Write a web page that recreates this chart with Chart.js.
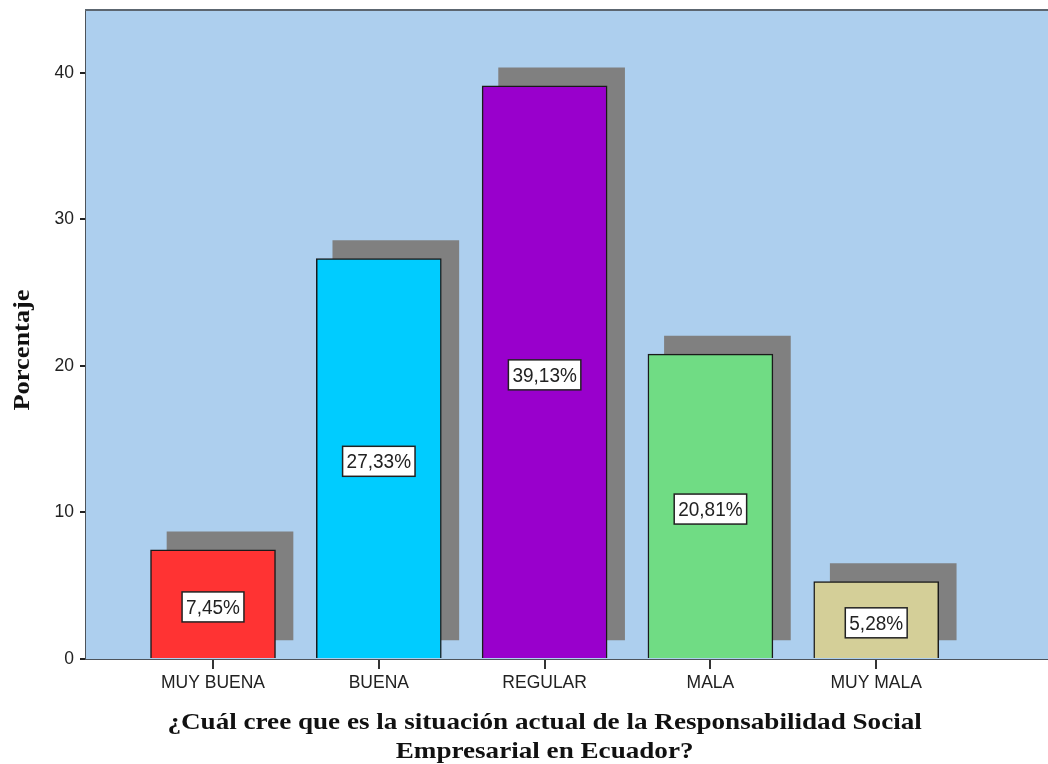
<!DOCTYPE html>
<html>
<head>
<meta charset="utf-8">
<script src="https://cdn.jsdelivr.net/npm/chart.js@4/dist/chart.umd.min.js"></script>
<style>
body { margin: 0; background: #fff; }
</style>
</head>
<body>
<canvas id="myChart" width="1048" height="764"></canvas>
<script>
var categorias = ['MUY BUENA', 'BUENA', 'REGULAR', 'MALA', 'MUY MALA']
var porcentajes = [7.45, 27.33, 39.13, 20.81, 5.28]
var colores = ['#FF3333', '#00CCFF', '#9900CC', '#70DC84', '#D4CF98']
var yTicks = [0, 10, 20, 30, 40]
var tituloX = ['¿Cuál cree que es la situación actual de la Responsabilidad Social', 'Empresarial en Ecuador?']
var tituloY = 'Porcentaje'

function drawChart(){
var puntos = porcentajes.map(function(v, i){ return {x: i, y: v} })

// fondo azul y borde superior del area
var fondo = {
    id: 'fondo',
    beforeDatasetsDraw: function(chart){
        var a = chart.chartArea, ctx = chart.ctx
        ctx.save()
        ctx.fillStyle = '#ADCFEE'
        ctx.fillRect(a.left, a.top, a.right - a.left, a.bottom - a.top)
        ctx.strokeStyle = '#5c6670'
        ctx.lineWidth = 2
        ctx.beginPath()
        ctx.moveTo(a.left - 1, a.top)
        ctx.lineTo(a.right, a.top)
        ctx.stroke()
        ctx.restore()
    }
}

// sombra desplazada de cada barra
var sombra = {
    id: 'sombra',
    beforeDatasetDraw: function(chart, args){
        if (args.index !== 0) return
        chart.ctx.save()
        chart.ctx.translate(17, -18)
    },
    afterDatasetDraw: function(chart, args){
        if (args.index !== 0) return
        chart.ctx.restore()
    }
}

// texto algo estirado, como en la imagen original
function textoEstirado(ctx, txt, x, y, sx, sy, rot){
    ctx.save()
    ctx.translate(x, y)
    if (rot) ctx.rotate(rot)
    ctx.scale(sx, sy)
    ctx.fillText(txt, 0, 0)
    ctx.restore()
}

// etiquetas con porcentaje dentro de cada barra y titulos de ejes
var etiquetas = {
    id: 'etiquetas',
    afterDatasetsDraw: function(chart){
        var ctx = chart.ctx
        var meta = chart.getDatasetMeta(1)
        ctx.save()
        ctx.font = '19px "Liberation Sans", Arial, sans-serif'
        ctx.textAlign = 'center'
        ctx.textBaseline = 'middle'
        meta.data.forEach(function(bar, i){
            var txt = porcentajes[i].toFixed(2).replace('.', ',') + '%'
            var w = ctx.measureText(txt).width + 8
            var h = 30
            var cy = (bar.y + bar.base) / 2 + 3
            ctx.fillStyle = '#fff'
            ctx.fillRect(bar.x - w / 2, cy - h / 2, w, h)
            ctx.strokeStyle = '#222'
            ctx.lineWidth = 1.5
            ctx.strokeRect(bar.x - w / 2, cy - h / 2, w, h)
            ctx.fillStyle = '#222'
            textoEstirado(ctx, txt, bar.x, cy + 1, 1, 1.1)
        })
        ctx.restore()
    },
    afterDraw: function(chart){
        var ctx = chart.ctx
        var xs = chart.scales.x
        var cx = (xs.getPixelForValue(0) + xs.getPixelForValue(categorias.length - 1)) / 2
        ctx.save()
        ctx.font = 'bold 24px "Liberation Serif", "Times New Roman", serif'
        ctx.fillStyle = '#111'
        ctx.textAlign = 'center'
        ctx.textBaseline = 'middle'
        tituloX.forEach(function(linea, i){
            textoEstirado(ctx, linea, cx, 723 + i * 29, 1.13, 1)
        })
        textoEstirado(ctx, tituloY, 23, 350, 1.1, 1, -Math.PI / 2)
        ctx.restore()
    }
}

var ctx = document.getElementById('myChart').getContext('2d')
var myChart = new Chart(ctx, {
    type: 'bar',
    data: {
        datasets: [{
            label: 'sombra',
            data: puntos,
            backgroundColor: '#808080',
            borderWidth: 0,
            barThickness: 126,
            grouped: false,
            order: 2
        }, {
            label: 'Porcentaje',
            data: puntos,
            backgroundColor: colores,
            borderColor: '#1a1a1a',
            borderWidth: 1.5,
            barThickness: 125,
            grouped: false,
            order: 1
        }]
    },
    plugins: [fondo, sombra, etiquetas],
    options: {
        responsive: false,
        animation: false,
        layout: { padding: { top: 10, left: 0, right: 0, bottom: 0 } },
        plugins: {
            legend: { display: false },
            tooltip: { enabled: false }
        },
        scales: {
            x: {
                type: 'linear',
                offset: false,
                min: -0.766,
                max: 5.036,
                afterBuildTicks: function(scale){
                    scale.ticks = categorias.map(function(c, i){ return {value: i} })
                },
                afterFit: function(scale){
                    scale.height = 105
                    scale.paddingLeft = 0
                    scale.paddingRight = 0
                },
                ticks: {
                    callback: function(v){ return categorias[v] },
                    font: { family: '"Liberation Sans", Arial, sans-serif', size: 17.5 },
                    color: '#222',
                    padding: 4,
                    maxRotation: 0,
                    autoSkip: false
                },
                grid: { offset: false, drawOnChartArea: false, tickLength: 10, tickColor: '#333', lineWidth: 2 },
                border: { color: '#4d545b', width: 2 }
            },
            y: {
                min: 0,
                max: 44.3,
                afterBuildTicks: function(scale){
                    scale.ticks = yTicks.map(function(v){ return {value: v} })
                },
                afterFit: function(scale){
                    scale.width = 86
                    scale.paddingTop = 0
                    scale.paddingBottom = 0
                },
                ticks: {
                    font: { family: '"Liberation Sans", Arial, sans-serif', size: 17.5 },
                    color: '#222',
                    padding: 6
                },
                grid: { drawOnChartArea: false, tickLength: 6, tickColor: '#222', lineWidth: 2 },
                border: { color: '#4d545b', width: 2 }
            }
        }
    }
});
}

document.addEventListener('DOMContentLoaded', drawChart);
</script>
</body>
</html>
